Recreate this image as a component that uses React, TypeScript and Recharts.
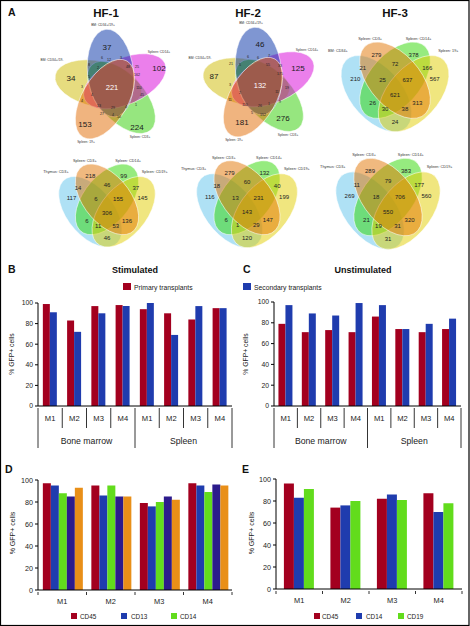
import React from "react";
import { Bar, BarChart, Scatter, ScatterChart, XAxis, YAxis } from "recharts";

const FONT = "'Liberation Sans', Arial, Helvetica, sans-serif";
const RED = "#a3001f";
const BLUE = "#1f3cae";
const GREEN = "#62dc1c";
const PURPLE = "#2c1b8c";
const ORANGE = "#e98f18";

// ---------- A: Venn counts ----------
const fiveSetNames = ["BM: CD34+/19+", "Spleen: CD14+", "Spleen: CD3+", "Spleen: 19+", "BM: CD34+/19-"];
const hf1Petals = [37, 102, 224, 153, 34];
const hf1Core = 221;
const hf1Minor = [6, 12, 3, 8, 2, 48, 25, 5, 162, 3, 110, 45, 4, 4, 13, 29, 4, 1, 27, 4, 10];
const hf2Petals = [46, 125, 276, 181, 87];
const hf2Core = 132;
const hf2Minor = [6, 6, 7, 21, 5, 55, 33, 175, 3, 11, 19, 2, 11, 110, 26, 1, 9, 5, 152];

// regions: A, B, C, D, AB, BC, CD, ABC, BCD, ABCD, AC, BD, ACD, ABD, AD
const hf3Names = ["BM: CD34+", "Spleen: CD3+", "Spleen: CD14+", "Spleen: 19+"];
const hf3Counts = [210, 279, 378, 567, 21, 72, 166, 25, 637, 621, 26, 313, 30, 38, 24];
const lineageNames = ["Thymus: CD3+", "Spleen: CD3+", "Spleen: CD14+", "Spleen: CD19+"];
const lineage1Counts = [117, 218, 99, 145, 14, 46, 37, 6, 155, 306, 6, 136, 11, 53, 46];
const lineage2Counts = [116, 279, 132, 199, 18, 60, 40, 13, 231, 143, 6, 147, 1, 29, 120];
const lineage3Counts = [269, 289, 383, 560, 11, 79, 177, 18, 706, 550, 21, 320, 19, 31, 31];

// ---------- B-E: bar values ----------
const tissues = ["Bone marrow", "Spleen"];
const mice = ["M1", "M2", "M3", "M4"];
const stimPrimary = [99, 83, 97, 98, 94, 90, 84, 95];
const stimSecondary = [91, 72, 90, 97, 100, 69, 97, 95];
const unstimPrimary = [79, 71, 73, 71, 86, 74, 71, 74];
const unstimSecondary = [97, 89, 87, 99, 97, 74, 79, 84];
const dCD45 = [97, 95, 79, 97];
const dCD13 = [95, 86, 76, 95];
const dCD14 = [88, 95, 80, 89];
const dFourth = [85, 85, 85, 96];
const dFifth = [93, 85, 82, 95];
const eCD45 = [96, 74, 82, 87];
const eCD14 = [83, 76, 86, 70];
const eCD19 = [91, 80, 81, 78];

// ---------- Venn layout (kept apart from the counts) ----------
const fiveColors = ["#002da5", "#d700d7", "#2dcd00", "#e16900", "#cdb900"];
const fourColors = ["#5fc3eb", "#e17300", "#2dd700", "#e1cd00"];
const fiveNameSpots = [[-9, -62], [47, -35], [28, 50], [-26, 55], [-60, -27]];
const hf1PetalSpots = [[-5, -40], [47, -19], [25, 40], [-27, 37], [-41, -9]];
const hf2PetalSpots = [[0, -41], [38, -17], [23, 33], [-18, 37], [-46, -9]];
const hf1MinorSpots = [[-10, -29], [-3, -27], [9, -29], [-23, -22], [-14, -19], [16, -20], [25, -20], [-23, -10], [25, -12], [-30, 0], [27, 1], [30, 8], [-20, 8], [-30, 14], [-13, 19], [1, 21], [14, 20], [24, 18], [-10, 27], [1, 28], [7, 30]];
const hf2MinorSpots = [[-12, -28], [-2, -27], [9, -29], [-29, -21], [-20, -20], [8, -20], [20, -19], [20, -11], [-30, 0], [17, 7], [27, 3], [-20, 8], [-30, 15], [-15, 20], [0, 21], [9, 19], [20, 17], [-8, 28], [3, 30]];
const fourEllipses = [[0.35, 0.53, 45], [0.5, 0.43, 45], [0.5, 0.43, -45], [0.65, 0.53, -45]];
const fourSpots = [[0.18, 0.42], [0.35, 0.24], [0.65, 0.24], [0.82, 0.42], [0.24, 0.34], [0.5, 0.31], [0.76, 0.34], [0.4, 0.43], [0.6, 0.43], [0.5, 0.54], [0.32, 0.6], [0.68, 0.6], [0.42, 0.64], [0.58, 0.64], [0.5, 0.74]];
const fourNameSpots = [[0.04, 0.21], [0.3, 0.12], [0.69, 0.12], [0.93, 0.21]];

type Pt = { x: number; y: number; [k: string]: any };
const shapes: Pt[] = [];
const texts: Pt[] = [];

function fiveSet(cx: number, cy: number, petals: number[], core: number, minor: number[], petalSpots: number[][], minorSpots: number[][]) {
  [4, 2, 1, 0, 3].forEach((i) => {
    const deg = -96 + 72 * i;
    const th = (deg * Math.PI) / 180;
    shapes.push({ x: cx + 14 * Math.cos(th), y: cy + 14 * Math.sin(th), rx: 44, ry: 23, rot: deg, sx: 1, sy: 1, fill: fiveColors[i], alpha: 0.5 });
  });
  petals.forEach((v, i) => texts.push({ x: cx + petalSpots[i][0], y: cy + petalSpots[i][1], text: v, size: 8, color: "#1a1a1a" }));
  texts.push({ x: cx, y: cy, text: core, size: 7.5, color: "#fff" });
  minor.forEach((v, i) => texts.push({ x: cx + minorSpots[i][0], y: cy + minorSpots[i][1], text: v, size: 3.6, color: "#222" }));
  fiveSetNames.forEach((n, i) => texts.push({ x: cx + fiveNameSpots[i][0], y: cy + fiveNameSpots[i][1], text: n, size: 3.3, color: "#333" }));
}

function fourSet(cx: number, cy: number, sx: number, sy: number, counts: number[], names: string[]) {
  const px = (u: number) => cx + (u - 0.5) * sx;
  const py = (v: number) => cy + (v - 0.54) * sy;
  [0, 2, 3, 1].forEach((i) => {
    const e = fourEllipses[i];
    shapes.push({ x: px(e[0]), y: py(e[1]), rx: 0.35, ry: 0.2, rot: e[2], sx, sy, fill: fourColors[i], alpha: 0.5 });
  });
  counts.forEach((v, i) => texts.push({ x: px(fourSpots[i][0]), y: py(fourSpots[i][1]), text: v, size: 6, color: "#222" }));
  names.forEach((n, i) => texts.push({ x: px(fourNameSpots[i][0]), y: py(fourNameSpots[i][1]), text: n, size: 3.8, color: "#333" }));
}

fiveSet(112, 87, hf1Petals, hf1Core, hf1Minor, hf1PetalSpots, hf1MinorSpots);
fiveSet(260, 85, hf2Petals, hf2Core, hf2Minor, hf2PetalSpots, hf2MinorSpots);
fourSet(395, 95, 124, 134, hf3Counts, hf3Names);
fourSet(107, 213, 111, 124, lineage1Counts, lineageNames);
fourSet(247, 212, 116, 130, lineage2Counts, lineageNames);
fourSet(388, 212, 120, 136, lineage3Counts, lineageNames);

const EllipseShape = (p: any) => {
  const d = p.payload;
  return (
    <ellipse
      cx={0}
      cy={0}
      rx={d.rx}
      ry={d.ry}
      transform={`translate(${p.cx},${p.cy}) scale(${d.sx},${d.sy}) rotate(${d.rot})`}
      fill={d.fill}
      fillOpacity={d.alpha}
      stroke="#fff"
      strokeOpacity={0.8}
      strokeWidth={0.7}
      vectorEffect="non-scaling-stroke"
    />
  );
};

const TextShape = (p: any) => {
  const d = p.payload;
  return (
    <text x={p.cx} y={p.cy} dy="0.35em" textAnchor="middle" fontSize={d.size} fill={d.color}>
      {d.text}
    </text>
  );
};

// ---------- bar rows ----------
const stimRows = tissues.flatMap((t, ti) =>
  mice.map((m, mi) => ({ key: `${t}-${m}`, tissue: t, mouse: m, primary: stimPrimary[ti * 4 + mi], secondary: stimSecondary[ti * 4 + mi] }))
);
const unstimRows = tissues.flatMap((t, ti) =>
  mice.map((m, mi) => ({ key: `${t}-${m}`, tissue: t, mouse: m, primary: unstimPrimary[ti * 4 + mi], secondary: unstimSecondary[ti * 4 + mi] }))
);
const dRows = mice.map((m, i) => ({ mouse: m, cd45: dCD45[i], cd13: dCD13[i], cd14: dCD14[i], fourth: dFourth[i], fifth: dFifth[i] }));
const eRows = mice.map((m, i) => ({ mouse: m, cd45: eCD45[i], cd14: eCD14[i], cd19: eCD19[i] }));

const yTicks = [0, 20, 40, 60, 80, 100];

function GroupTick(p: any) {
  const { x, y, index, rows, bw } = p;
  const r = rows[index];
  const first = index % 4 === 0;
  return (
    <g>
      <text x={x} y={y + 13} textAnchor="middle" fontSize={7.6} fill="#222">{r.mouse}</text>
      <line x1={x - bw / 2} x2={x - bw / 2} y1={y} y2={y + (first ? 40 : 20)} stroke="#000" strokeWidth={0.8} />
      {index === rows.length - 1 && <line x1={x + bw / 2} x2={x + bw / 2} y1={y} y2={y + 40} stroke="#000" strokeWidth={0.8} />}
      {first && <text x={x + 1.5 * bw} y={y + 36} textAnchor="middle" fontSize={8.7} fill="#222">{r.tissue}</text>}
    </g>
  );
}

function MouseTick(p: any) {
  const { x, y, index, n, bw, payload } = p;
  return (
    <g>
      <text x={x} y={y + 12} textAnchor="middle" fontSize={7.4} fill="#222">{payload.value}</text>
      <line x1={x - bw / 2} x2={x - bw / 2} y1={y} y2={y + 3} stroke="#000" strokeWidth={0.8} />
      {index === n - 1 && <line x1={x + bw / 2} x2={x + bw / 2} y1={y} y2={y + 3} stroke="#000" strokeWidth={0.8} />}
    </g>
  );
}

function TransplantChart({ rows, left, width, ml, mr, mt, gap }: any) {
  const bw = (width - ml - mr - 30) / rows.length;
  return (
    <div style={{ position: "absolute", left, top: 290 }}>
      <BarChart width={width} height={170} data={rows} margin={{ top: mt, right: mr, left: ml, bottom: 0 }} barCategoryGap={gap} barGap={0}>
        <XAxis dataKey="key" interval={0} tickSize={0} tickLine={false} axisLine={{ stroke: "#000" }} height={54} tick={(p: any) => <GroupTick {...p} rows={rows} bw={bw} />} />
        <YAxis width={30} domain={[0, 100]} ticks={yTicks} tickSize={3} tickMargin={2} axisLine={{ stroke: "#000" }} tickLine={{ stroke: "#000" }} tick={{ fontSize: 6.8, fill: "#222" }} />
        <Bar dataKey="primary" fill={RED} isAnimationActive={false} />
        <Bar dataKey="secondary" fill={BLUE} isAnimationActive={false} />
      </BarChart>
    </div>
  );
}

function MouseChart({ rows, keys, colors, left, width, ml, mr, mt, gap }: any) {
  const bw = (width - ml - mr - 30) / rows.length;
  return (
    <div style={{ position: "absolute", left, top: 455 }}>
      <BarChart width={width} height={171} data={rows} margin={{ top: mt, right: mr, left: ml, bottom: 171 - mt - 110 - 25 }} barCategoryGap={gap} barGap={0}>
        <XAxis dataKey="mouse" interval={0} tickSize={0} tickLine={false} axisLine={{ stroke: "#000" }} height={25} tick={(p: any) => <MouseTick {...p} n={rows.length} bw={bw} />} />
        <YAxis width={30} domain={[0, 100]} ticks={yTicks} tickSize={3} tickMargin={2} axisLine={{ stroke: "#000" }} tickLine={{ stroke: "#000" }} tick={{ fontSize: 7.2, fill: "#222" }} />
        {keys.map((k: string, i: number) => (
          <Bar key={k} dataKey={k} fill={colors[i]} isAnimationActive={false} />
        ))}
      </BarChart>
    </div>
  );
}

const yLabel = (x: number, y: number, size: number) => (
  <text x={x} y={y} transform={`rotate(-90 ${x} ${y})`} textAnchor="middle" fontSize={size} fill="#222">% GFP+ cells</text>
);

export default function App() {
  return (
    <div style={{ position: "absolute", left: 0, top: 0, width: 470, height: 626, background: "#fff", fontFamily: FONT, overflow: "hidden" }}>
      <div style={{ position: "absolute", left: 0, top: 0 }}>
        <ScatterChart width={470} height={290} margin={{ top: 0, right: 0, bottom: 0, left: 0 }}>
          <XAxis type="number" dataKey="x" domain={[0, 470]} hide />
          <YAxis type="number" dataKey="y" domain={[0, 290]} reversed hide />
          <Scatter data={shapes} shape={EllipseShape} isAnimationActive={false} />
          <Scatter data={texts} shape={TextShape} isAnimationActive={false} />
        </ScatterChart>
      </div>

      <TransplantChart rows={stimRows} left={0} width={240} ml={8} mr={8} mt={13} gap="20%" />
      <TransplantChart rows={unstimRows} left={234} width={236} ml={10} mr={9} mt={12} gap="19%" />
      <MouseChart rows={dRows} keys={["cd45", "cd13", "cd14", "fourth", "fifth"]} colors={[RED, BLUE, GREEN, PURPLE, ORANGE]} left={0} width={240} ml={8} mr={8} mt={25} gap="10%" />
      <MouseChart rows={eRows} keys={["cd45", "cd14", "cd19"]} colors={[RED, BLUE, GREEN]} left={234} width={236} ml={12} mr={8} mt={24} gap="17%" />

      <svg width={470} height={626} style={{ position: "absolute", left: 0, top: 0, pointerEvents: "none" }}>
        <text x={8} y={16} fontSize={10.5} fontWeight="bold" fill="#111">A</text>
        <text x={106} y={16.5} fontSize={11.5} fontWeight="bold" textAnchor="middle" fill="#111">HF-1</text>
        <text x={248} y={16.5} fontSize={11.5} fontWeight="bold" textAnchor="middle" fill="#111">HF-2</text>
        <text x={395} y={16.5} fontSize={11.5} fontWeight="bold" textAnchor="middle" fill="#111">HF-3</text>

        <text x={8} y={273} fontSize={10.5} fontWeight="bold" fill="#111">B</text>
        <text x={135} y={272.5} fontSize={9} fontWeight="bold" textAnchor="middle" fill="#111">Stimulated</text>
        <text x={243} y={273} fontSize={10.5} fontWeight="bold" fill="#111">C</text>
        <text x={363} y={272.5} fontSize={9} fontWeight="bold" textAnchor="middle" fill="#111">Unstimulated</text>
        <rect x={123} y={283} width={8} height={7} fill={RED} />
        <text x={134} y={289.5} fontSize={6.8} fill="#222">Primary transplants</text>
        <rect x={243} y={283} width={8} height={7} fill={BLUE} />
        <text x={254} y={289.5} fontSize={6.8} fill="#222">Secondary transplants</text>
        {yLabel(14, 354, 6.8)}
        {yLabel(248, 354, 6.8)}

        <text x={5} y={473} fontSize={10.5} fontWeight="bold" fill="#111">D</text>
        <text x={242} y={473} fontSize={10.5} fontWeight="bold" fill="#111">E</text>
        {yLabel(14.5, 533, 7)}
        {yLabel(253.5, 533, 7)}

        <rect x={71} y={613} width={6} height={6} fill={RED} />
        <text x={80} y={618.5} fontSize={6.4} fill="#222">CD45</text>
        <rect x={121} y={613} width={6} height={6} fill={BLUE} />
        <text x={131} y={618.5} fontSize={6.4} fill="#222">CD13</text>
        <rect x={171} y={613} width={6} height={6} fill={GREEN} />
        <text x={180} y={618.5} fontSize={6.4} fill="#222">CD14</text>

        <rect x={314} y={613} width={6} height={6} fill={RED} />
        <text x={322} y={618.5} fontSize={6.4} fill="#222">CD45</text>
        <rect x={356} y={613} width={6} height={6} fill={BLUE} />
        <text x={366} y={618.5} fontSize={6.4} fill="#222">CD14</text>
        <rect x={398} y={613} width={6} height={6} fill={GREEN} />
        <text x={407} y={618.5} fontSize={6.4} fill="#222">CD19</text>

        <rect x={0.5} y={0.5} width={468.5} height={625} fill="none" stroke="#000" strokeWidth={1.2} />
      </svg>
    </div>
  );
}
